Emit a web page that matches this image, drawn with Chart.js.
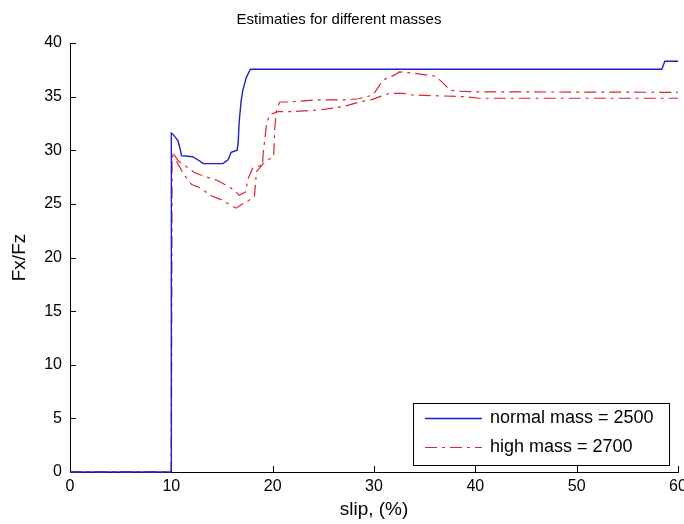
<!DOCTYPE html>
<html>
<head>
<meta charset="utf-8">
<script src="https://cdn.jsdelivr.net/npm/chart.js@4.4.1/dist/chart.umd.min.js"></script>
<style>
  html, body { margin: 0; padding: 0; background: #fff; }
  canvas { display: block; }
</style>
</head>
<body>
<canvas id="chart" width="684" height="524"></canvas>
<script>
const chartTitle = "Estimaties for different masses";
const xLabel = "slip, (%)";
const yLabel = "Fx/Fz";
const seriesNames = ["normal mass = 2500", "high mass = 2700"];

// normal mass (blue, solid)
const blueX = [0, 10, 10, 10.15, 10.65, 10.9, 11.0, 12.1, 12.8, 13.15, 15.1, 15.6, 15.9, 16.5, 16.6, 16.7, 16.9, 17.06, 17.4, 17.8, 58.4, 58.7, 60];
const blueY = [0, 0, 31.6, 31.5, 30.9, 30.0, 29.5, 29.4, 29.0, 28.75, 28.75, 29.1, 29.8, 30.0, 30.8, 32.7, 34.7, 35.6, 36.8, 37.55, 37.55, 38.3, 38.3];

// high mass, first estimate (red, dash-dot)
const redAX = [0, 10, 10.05, 10.7, 11.3, 12.3, 13.5, 14.5, 15.1, 16.2, 16.7, 17.3, 17.6, 18.0, 18.5, 19.0, 19.05, 19.2, 19.4, 19.7, 20.5, 22.0, 24.6, 26.9, 28.6, 29.7, 31.5, 32.9, 33.8, 35.5, 38.8, 40.4, 60];
const redAY = [0, 0, 29.9, 29.0, 28.6, 27.9, 27.5, 27.2, 26.9, 26.3, 25.8, 26.1, 27.4, 28.3, 28.5, 28.6, 29.6, 30.8, 32.5, 33.3, 33.6, 33.6, 33.75, 34.06, 34.5, 34.7, 35.3, 35.3, 35.15, 35.1, 35.0, 34.85, 34.85];

// high mass, second estimate (red, dash-dot)
const redBX = [0, 10, 10.05, 10.5, 11.2, 12.0, 12.6, 13.3, 13.8, 14.9, 15.8, 16.4, 17.2, 17.6, 18.2, 18.4, 19.3, 20.1, 20.2, 20.4, 20.7, 21.7, 24.3, 27.3, 28.5, 29.9, 30.9, 32.0, 32.5, 33.8, 36.1, 37.0, 37.5, 38.4, 40, 60];
const redBY = [0, 0, 29.5, 29.0, 27.8, 26.8, 26.6, 26.2, 25.8, 25.4, 24.9, 24.6, 25.1, 25.3, 25.7, 28.0, 29.0, 29.4, 32.0, 33.9, 34.5, 34.5, 34.7, 34.7, 34.8, 35.15, 36.55, 37.0, 37.3, 37.2, 36.9, 36.1, 35.6, 35.5, 35.45, 35.4];

const pts = (xs, ys) => xs.map((x, i) => ({ x: x, y: ys[i] }));

const FONT = "'Liberation Sans', Arial, sans-serif";
const BLUE = "#1f1fd0";
const RED = "#dc2430";
const DASHDOT = [12, 5, 3, 5];

// matlab style ticks pointing into the axes
const innerTicks = {
  id: "innerTicks",
  beforeDatasetsDraw(chart) {
    const { ctx, chartArea: a, scales } = chart;
    ctx.save();
    ctx.strokeStyle = "#000";
    ctx.lineWidth = 1;
    ctx.beginPath();
    scales.x.ticks.forEach((t) => {
      const px = Math.round(scales.x.getPixelForValue(t.value)) + 0.5;
      ctx.moveTo(px, a.bottom);
      ctx.lineTo(px, a.bottom - 6);
    });
    scales.y.ticks.forEach((t) => {
      const py = Math.round(scales.y.getPixelForValue(t.value)) + 0.5;
      ctx.moveTo(a.left, py);
      ctx.lineTo(a.left + 6, py);
    });
    ctx.stroke();
    ctx.restore();
  },
};

// boxed legend in the lower right corner
const boxLegend = {
  id: "boxLegend",
  afterDraw(chart) {
    const { ctx } = chart;
    const L = 413, T = 403, W = 256, H = 62;
    ctx.save();
    ctx.fillStyle = "#fff";
    ctx.fillRect(L, T, W, H);
    ctx.strokeStyle = "#000";
    ctx.lineWidth = 1;
    ctx.strokeRect(L + 0.5, T + 0.5, W, H);
    const rows = [
      { ds: chart.data.datasets[0], y: 418.5 },
      { ds: chart.data.datasets[1], y: 447.5 },
    ];
    ctx.font = "18px " + FONT;
    ctx.textBaseline = "middle";
    rows.forEach((r) => {
      ctx.strokeStyle = r.ds.borderColor;
      ctx.lineWidth = r.ds.borderWidth;
      ctx.setLineDash(r.ds.borderDash || []);
      ctx.beginPath();
      ctx.moveTo(425, r.y);
      ctx.lineTo(482, r.y);
      ctx.stroke();
      ctx.setLineDash([]);
      ctx.fillStyle = "#000";
      ctx.fillText(r.ds.label, 490, r.y);
    });
    ctx.restore();
  },
};

const config = {
  type: "scatter",
  data: {
    datasets: [
      {
        label: seriesNames[0],
        data: pts(blueX, blueY),
        showLine: true,
        borderColor: BLUE,
        borderWidth: 1.4,
        pointRadius: 0,
        clip: false,
      },
      {
        label: seriesNames[1],
        data: pts(redAX, redAY),
        showLine: true,
        borderColor: RED,
        borderWidth: 1.2,
        borderDash: DASHDOT,
        pointRadius: 0,
        clip: false,
      },
      {
        label: seriesNames[1] + " (2)",
        data: pts(redBX, redBY),
        showLine: true,
        borderColor: RED,
        borderWidth: 1.2,
        borderDash: DASHDOT,
        pointRadius: 0,
        clip: false,
      },
    ],
  },
  options: {
    responsive: false,
    animation: false,
    devicePixelRatio: 1,
    layout: { padding: { left: 0, right: 6, top: 0, bottom: 0 } },
    plugins: {
      legend: { display: false },
      tooltip: { enabled: false },
      title: {
        display: true,
        text: chartTitle,
        color: "#000",
        font: { family: FONT, size: 15, weight: "normal", lineHeight: 1.2 },
        padding: { top: 11, bottom: 14 },
      },
    },
    scales: {
      x: {
        type: "linear",
        min: 0,
        max: 60,
        ticks: { stepSize: 10, color: "#000", padding: 5, font: { family: FONT, size: 16 } },
        grid: { display: false, drawTicks: false },
        border: { display: true, color: "#000", width: 1 },
        title: { display: true, text: xLabel, color: "#000", font: { family: FONT, size: 19 }, padding: { top: 0, bottom: 3 } },
        afterFit(s) { s.height = 52; s.paddingLeft = 0; s.paddingRight = 0; },
      },
      y: {
        min: 0,
        max: 40,
        ticks: { stepSize: 5, color: "#000", padding: 8, font: { family: FONT, size: 16 } },
        grid: { display: false, drawTicks: false },
        border: { display: true, color: "#000", width: 1 },
        title: { display: true, text: yLabel, color: "#000", font: { family: FONT, size: 19 }, padding: { top: 8, bottom: 0 } },
        afterFit(s) { s.width = 70; s.paddingTop = 0; s.paddingBottom = 0; },
      },
    },
  },
  plugins: [innerTicks, boxLegend],
};

const chart = new Chart(document.getElementById("chart"), config);
</script>
</body>
</html>
